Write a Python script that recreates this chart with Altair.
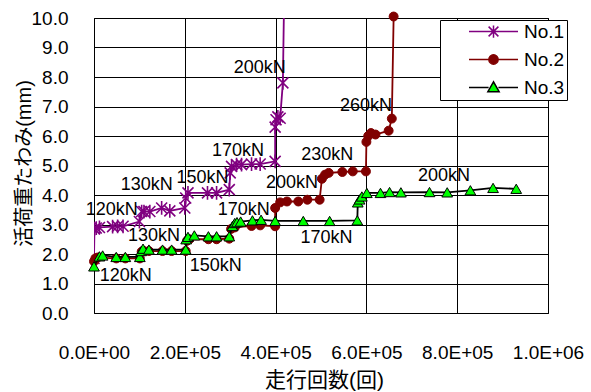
import altair as alt
import pandas as pd

FONT = "Liberation Sans, Noto Sans CJK JP"

series_names = ["No.1", "No.2", "No.3"]

# running cycles / live-load deflection (mm)
no1_x = [0, 1000, 5000, 12000, 41000, 52000, 64000, 100000, 105000, 110000,
         123000, 149000, 167000, 200000, 202000, 207000, 250000, 270000, 298000,
         300000, 303000, 314000, 325000, 347000, 366000, 399000, 399000, 401000,
         405000, 410000, 416000, 420000]
no1_y = [1.85, 2.85, 2.88, 2.9, 2.93, 2.94, 2.94, 3.1, 3.44, 3.44,
         3.44, 3.56, 3.46, 3.56, 3.9, 4.07, 4.07, 4.07, 4.18,
         4.75, 4.97, 5.03, 5.03, 5.05, 5.05, 5.14, 6.3, 6.55,
         6.65, 6.6, 7.8, 12.0]

no2_x = [0, 3000, 8000, 49000, 69000, 101000, 105000, 110000, 121000, 151000,
         171000, 202000, 205000, 210000, 252000, 270000, 298000, 302000, 310000,
         347000, 366000, 399000, 399000, 410000, 425000, 450000, 470000, 497000,
         502000, 509000, 517000, 547000, 570000, 599000, 600000, 604000, 610000,
         620000, 649000, 656000, 660000]
no2_y = [1.75, 1.85, 1.88, 1.85, 1.85, 1.85, 2.08, 2.1, 2.1, 2.1,
         2.1, 2.1, 2.45, 2.5, 2.5, 2.5, 2.52, 2.85, 2.9,
         2.95, 2.97, 2.94, 3.56, 3.75, 3.78, 3.78, 3.84, 3.84,
         4.55, 4.69, 4.75, 4.78, 4.8, 4.8, 5.8, 6.0, 6.1,
         6.05, 6.18, 6.59, 10.05]

no3_x = [0, 12000, 19000, 49000, 69000, 101000, 104000, 108000, 121000, 151000,
         171000, 202000, 203000, 207000, 221000, 252000, 270000, 298000, 305000,
         310000, 315000, 323000, 349000, 368000, 399000, 461000, 519000, 580000,
         581000, 585000, 590000, 601000, 631000, 651000, 676000, 739000, 778000,
         829000, 879000, 930000]
no3_y = [1.58, 1.92, 1.95, 1.9, 1.9, 1.9, 2.1, 2.18, 2.15, 2.15,
         2.15, 2.15, 2.5, 2.58, 2.63, 2.6, 2.6, 2.6, 2.95,
         3.05, 3.08, 3.1, 3.14, 3.16, 3.12, 3.12, 3.12, 3.14,
         3.75, 3.85, 3.95, 4.07, 4.07, 4.1, 4.09, 4.1, 4.09,
         4.16, 4.24, 4.21]

# load-step annotations
note_text = ["200kN", "170kN", "230kN", "260kN", "200kN", "150kN", "130kN",
             "120kN", "130kN", "120kN", "150kN", "170kN", "200kN", "170kN"]
note_x = [365000, 317000, 514000, 599000, 771000, 239000, 116000,
          39000, 132000, 70000, 268000, 330000, 436000, 512000]
note_y = [8.30, 5.48, 5.37, 7.03, 4.64, 4.59, 4.35,
          3.50, 2.60, 1.25, 1.59, 3.50, 4.42, 2.54]

line_colors = ["#800080", "#800000", "#000000"]
fill_colors = ["#800080", "#800000", "#00ff00"]

rows = []
for name, xs, ys in zip(series_names, [no1_x, no2_x, no3_x], [no1_y, no2_y, no3_y]):
    for i, (a, b) in enumerate(zip(xs, ys)):
        rows.append({"series": name, "order": i, "cycles": a, "defl": b})
df = pd.DataFrame(rows)

notes = pd.DataFrame({"cycles": note_x, "defl": note_y, "label": note_text})

x_scale = alt.Scale(domain=[0, 1000000], nice=False, zero=False)
y_scale = alt.Scale(domain=[0, 10], nice=False)

x_axis = alt.Axis(
    values=[0, 200000, 400000, 600000, 800000, 1000000],
    labelExpr="replace(format(datum.value, '.1e'), 'e+', 'E+0')",
    grid=True, gridColor="#000000", gridWidth=1, gridOpacity=1,
    domain=False, ticks=False,
    labelFont=FONT, labelFontSize=19, labelColor="#000000", labelPadding=30,
    labelFlush=False, labelOverlap=False,
    title="走行回数(回)", titleFont=FONT, titleFontSize=21, titleFontWeight="normal",
    titleColor="#000000", titleX=230, titleY=67, titleAlign="center",
    titleBaseline="middle",
)
y_axis = alt.Axis(
    values=list(range(11)), format=".1f",
    grid=True, gridColor="#000000", gridWidth=1, gridOpacity=1,
    domain=False, ticks=False,
    labelFont=FONT, labelFontSize=19, labelColor="#000000", labelPadding=26,
    labelOverlap=False,
    title="活荷重たわみ(mm)", titleFont=FONT, titleFontSize=20, titleFontWeight="normal",
    titleColor="#000000", titleAngle=270, titleX=-70, titleY=145,
    titleAlign="center", titleBaseline="middle",
)

X = alt.X("cycles:Q", scale=x_scale, axis=x_axis)
Y = alt.Y("defl:Q", scale=y_scale, axis=y_axis)

asterisk = "M-1,-1L1,1M-1,1L1,-1M0,-1.25V1.25"
marker_shapes = [asterisk, "circle", "triangle-up"]
marker_sizes = [121, 80, 115]
marker_strokes = [1.6, 1, 1]

layers = []
for name, lc, fc, shp, sz, sw in zip(series_names, line_colors, fill_colors,
                                     marker_shapes, marker_sizes, marker_strokes):
    clip = name == "No.1"
    base = alt.Chart(df).transform_filter(alt.datum.series == name)
    layers.append(
        base.mark_line(color=lc, strokeWidth=1.8, clip=clip).encode(
            x=X, y=Y, order="order:Q")
    )
    layers.append(
        base.mark_point(shape=shp, size=sz, filled=True, fill=fc,
                        stroke="#000000" if name == "No.3" else lc,
                        strokeWidth=sw, opacity=1, clip=clip).encode(x=X, y=Y)
    )

layers.append(
    alt.Chart(notes).mark_text(font=FONT, fontSize=18, color="#000000",
                               align="center", baseline="middle").encode(
        x=X, y=Y, text="label:N")
)

# legend entries: line with its marker in the middle
legend_paths = [
    "M-1,0H1M-0.2,-0.2L0.2,0.2M-0.2,0.2L0.2,-0.2M0,-0.25V0.25",
    "M-1,0H1M-0.19,0A0.19,0.19 0 1,0 0.19,0A0.19,0.19 0 1,0 -0.19,0Z",
    "M-1,0H-0.2M0.2,0H1M0,-0.23L-0.23,0.17L0.23,0.17Z",
]
leg = alt.Legend(
    title=None, orient="none", legendX=346, legendY=2,
    fillColor="#ffffff", strokeColor="#000000", padding=2,
    symbolSize=2401, symbolStrokeWidth=1.5, symbolOffset=26,
    labelOffset=5, labelFont=FONT, labelFontSize=19, labelColor="#000000",
    clipHeight=19, rowPadding=8,
    labelExpr="datum.label + '\u00a0\u00a0\u00a0\u00a0\u00a0\u00a0\u00a0\u00a0'",
)
layers.append(
    alt.Chart(alt.Data(values=[])).mark_point(filled=True, opacity=1).encode(
        shape=alt.Shape("series:N", scale=alt.Scale(domain=series_names, range=legend_paths), legend=leg),
        fill=alt.Fill("series:N", scale=alt.Scale(domain=series_names, range=fill_colors), legend=leg),
        stroke=alt.Stroke("series:N", scale=alt.Scale(domain=series_names, range=line_colors), legend=leg),
    )
)

chart = alt.layer(*layers).properties(
    width=454, height=295,
    padding={"left": 94, "top": 18, "right": 43, "bottom": 79},
    autosize=alt.AutoSizeParams(type="none"),
    background="#ffffff",
).configure_view(stroke="#000000", strokeWidth=1)

chart.save("out.html", embed_options={"renderer": "svg", "actions": False})
